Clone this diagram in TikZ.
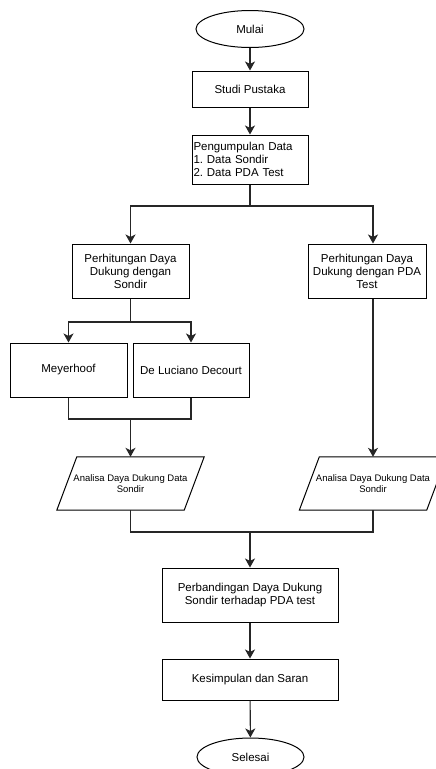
\documentclass[tikz,border=0pt]{standalone}
\usepackage{fontspec}
\setmainfont{Liberation Sans}
\usepackage{tikz}
\usetikzlibrary{arrows.meta, positioning, calc, shapes.geometric}

\frenchspacing
\tikzset{
  terminal/.style={draw, ellipse, line width=1pt, minimum width=108pt, minimum height=37pt, inner sep=0pt, font=\fontsize{11.5}{13}\selectfont},
  process/.style={draw, rectangle, line width=1pt, inner sep=1pt, align=center, font=\fontsize{11.5}{13}\selectfont},
  io/.style={rectangle, minimum width=127pt, minimum height=53pt, inner sep=0pt, align=center, font=\fontsize{9.5}{11}\selectfont},
  line/.style={line width=1.1pt, draw=black!85},
  arrowline/.style={line, -{Stealth[length=9pt, width=10pt, inset=2.5pt]}}
}
% slanted box round an io node
\newcommand{\slantbox}[1]{
	\draw[line width=1pt] ([xshift=-10pt]#1.south west) -- ([xshift=10pt]#1.north west)
		-- ([xshift=10pt]#1.north east) -- ([xshift=-10pt]#1.south east) -- cycle;
}

\begin{document}
\begin{tikzpicture}[x=1pt, y=-1pt]
	\useasboundingbox (0,0) rectangle (436,769);
	% start
	\node[terminal] (mulai) at (250,29) {Mulai};
	\node[process, minimum width=116pt, minimum height=36pt] (studi) at (250,89) {Studi Pustaka};
	\node[process, minimum width=116pt, minimum height=49pt, text width=113pt, align=left] (data) at (250,159.5)
		{Pengumpulan Data\\1. Data Sondir\\2. Data PDA Test};
	% two methods
	\node[process, minimum width=117pt, minimum height=54pt] (sondir) at (130.5,271)
		{Perhitungan Daya\\Dukung dengan\\Sondir};
	\node[process, minimum width=118pt, minimum height=54pt] (pda) at (367,271)
		{Perhitungan Daya\\Dukung dengan PDA\\Test};
	\node[process, minimum width=117pt, minimum height=54pt] (meyer) at (68.5,370) {Meyerhoof};
	\node[process, minimum width=116pt, minimum height=54pt] (decourt) at (191,370) {De Luciano Decourt};
	% analysis
	\node[io] (analsondir) at (130.5,483.5) {Analisa Daya Dukung Data\\Sondir};
	\node[io] (analpda) at (373,483.5) {Analisa Daya Dukung Data\\Sondir};
	\slantbox{analsondir}
	\slantbox{analpda}
	% end
	\node[process, minimum width=176pt, minimum height=54pt] (banding) at (250,595)
		{Perbandingan Daya Dukung\\Sondir terhadap PDA test};
	\node[process, minimum width=176pt, minimum height=41pt] (simpul) at (250,679.5) {Kesimpulan dan Saran};
	\node[terminal, minimum width=107pt, minimum height=38pt] (selesai) at (250.5,757) {Selesai};

	\coordinate (split) at (250,206);
	\coordinate (splitsondir) at (130.5,322);
	\coordinate (joinsondir) at (130.5,419);
	\coordinate (joinall) at (250,532);

	\draw[arrowline] (mulai) -- (studi);
	\draw[arrowline] (studi) -- (data);
	\draw[line] (data) -- (split);
	\draw[arrowline] (split) -| (sondir.north);
	\draw[arrowline] (split) -| (analpda.north |- pda.north);
	\draw[line] (sondir) -- (splitsondir);
	\draw[arrowline] (splitsondir) -| (meyer.north);
	\draw[arrowline] (splitsondir) -| (decourt.north);
	\draw[line] (meyer.south) |- (joinsondir) -| (decourt.south);
	\draw[arrowline] (joinsondir) -- (analsondir.north);
	\draw[arrowline] (analpda.north |- pda.south) -- (analpda.north);
	\draw[line] (analsondir.south) |- (joinall) -| (analpda.south);
	\draw[arrowline] (joinall) -- (banding);
	\draw[arrowline] (banding) -- (simpul);
	\draw[arrowline] (simpul) -- (selesai);
\end{tikzpicture}
\end{document}
